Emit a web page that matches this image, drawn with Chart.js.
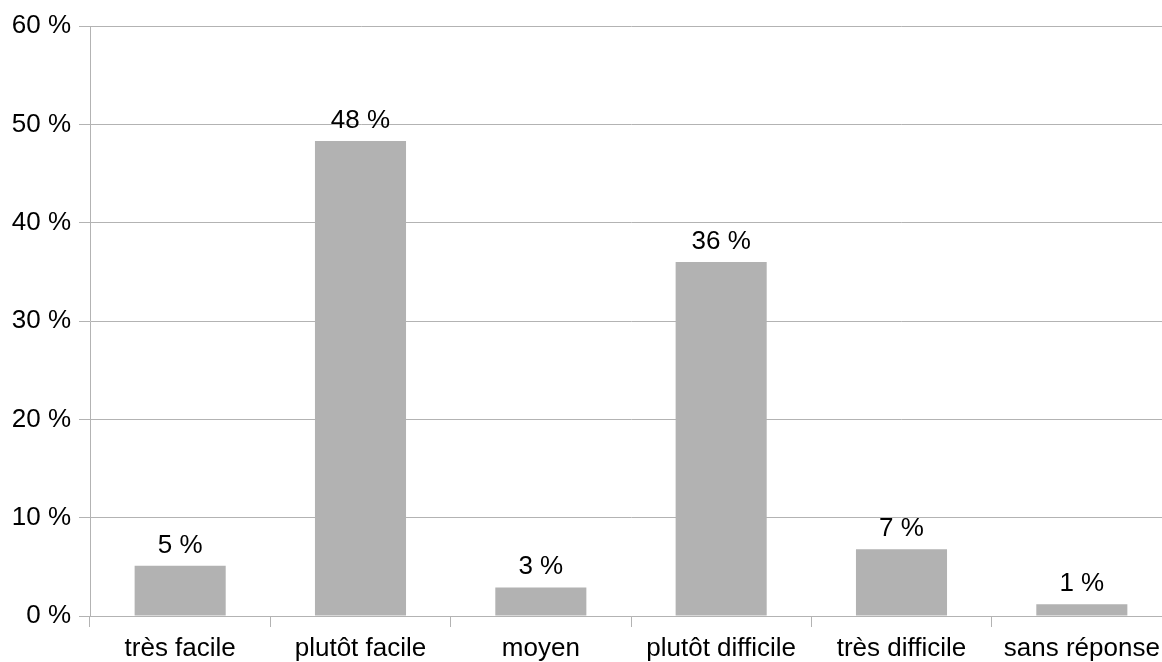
<!DOCTYPE html>
<html>
<head>
<meta charset="utf-8">
<script src="https://cdn.jsdelivr.net/npm/chart.js@4/dist/chart.umd.min.js"></script>
<style>
  html, body { margin: 0; padding: 0; background: #fff; overflow: hidden; }
  #wrap { position: relative; width: 1174px; height: 662px; }
</style>
</head>
<body>
<div id="wrap"><canvas id="grafico"></canvas></div>
<script>
// valeurs
const categories = ['très facile', 'plutôt facile', 'moyen', 'plutôt difficile', 'très difficile', 'sans réponse'];
const pourcentages = [5.1, 48.3, 2.9, 36.0, 6.8, 1.2];
const yTicks = [0, 10, 20, 30, 40, 50, 60];

const couleurBarre = '#b2b2b2';
const couleurGrille = '#b3b3b3';

// étiquettes de valeur au-dessus des barres
const etiquettesPlugin = {
    id: 'etiquettes',
    afterDatasetsDraw(chart) {
        const ctx = chart.ctx;
        const meta = chart.getDatasetMeta(0);
        ctx.save();
        ctx.font = '26px "Liberation Sans", Arial, sans-serif';
        ctx.fillStyle = '#000';
        ctx.textAlign = 'center';
        ctx.textBaseline = 'alphabetic';
        meta.data.forEach((barre, i) => {
            ctx.fillText(Math.round(pourcentages[i]) + ' %', barre.x, barre.y - 13);
        });
        ctx.restore();
    }
};

Chart.defaults.font.family = '"Liberation Sans", Arial, sans-serif';
Chart.defaults.font.size = 26;
Chart.defaults.color = '#000';

new Chart(document.getElementById('grafico'), {
    type: 'bar',
    data: {
        labels: categories,
        datasets: [{
            data: pourcentages,
            backgroundColor: couleurBarre,
            borderWidth: 0,
            categoryPercentage: 1,
            barPercentage: 0.505
        }]
    },
    options: {
        responsive: true,
        maintainAspectRatio: false,
        animation: false,
        layout: { padding: { left: 0, right: 2, top: 26, bottom: 0 } },
        plugins: { legend: { display: false }, tooltip: { enabled: false } },
        scales: {
            x: {
                offset: true,
                afterFit(scale) { scale.height = 46; },
                grid: {
                    offset: true,
                    drawOnChartArea: false,
                    drawTicks: true,
                    tickLength: 11,
                    color: couleurGrille,
                    lineWidth: 1
                },
                border: { color: couleurGrille, width: 1 },
                ticks: { padding: 9, maxRotation: 0, autoSkip: false, font: { lineHeight: 1 } }
            },
            y: {
                min: 0,
                max: 60,
                afterFit(scale) { scale.width = 90; },
                afterBuildTicks(axis) { axis.ticks = yTicks.map(v => ({ value: v })); },
                grid: { color: couleurGrille, lineWidth: 1, tickLength: 11 },
                border: { color: couleurGrille, width: 1 },
                ticks: { padding: 8, callback: v => v + ' %' }
            }
        }
    },
    plugins: [etiquettesPlugin]
});
</script>
</body>
</html>
